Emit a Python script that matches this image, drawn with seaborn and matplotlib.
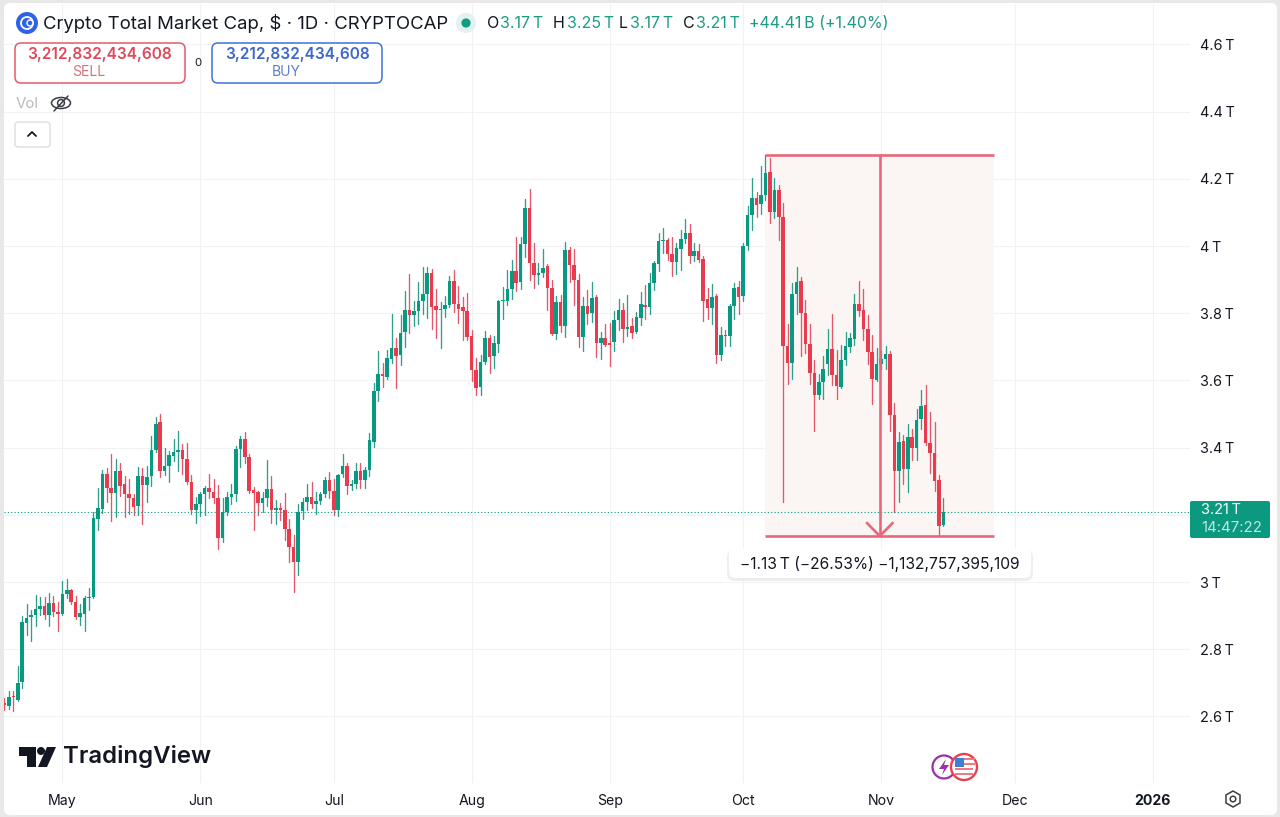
import pandas as pd
import matplotlib
matplotlib.use("Agg")
import matplotlib.pyplot as plt
import matplotlib.dates as mdates
from matplotlib.patches import Circle, FancyBboxPatch, Polygon, Rectangle, Ellipse
from matplotlib.transforms import IdentityTransform
import seaborn as sns

# daily candles in trillions of dollars
first_day = "2025-04-18"
opens = [
    2.640,2.630,2.660,2.650,2.703,2.878,2.895,2.902,2.920,2.928,
    2.901,2.937,2.910,2.904,2.965,2.975,2.942,2.897,2.905,2.952,
    2.955,3.188,3.217,3.323,3.279,3.264,3.330,3.291,3.261,3.251,
    3.227,3.316,3.289,3.316,3.393,3.475,3.330,3.345,3.376,3.386,
    3.393,3.366,3.298,3.216,3.233,3.262,3.281,3.269,3.249,3.132,
    3.209,3.254,3.261,3.396,3.427,3.373,3.274,3.267,3.235,3.251,
    3.276,3.214,3.219,3.216,3.158,3.105,3.061,3.211,3.237,3.254,
    3.233,3.241,3.261,3.303,3.272,3.214,3.322,3.344,3.286,3.291,
    3.330,3.303,3.333,3.416,3.568,3.618,3.610,3.665,3.697,3.675,
    3.744,3.811,3.794,3.806,3.836,3.857,3.920,3.821,3.811,3.812,
    3.824,3.895,3.827,3.819,3.806,3.731,3.632,3.580,3.655,3.726,
    3.672,3.709,3.836,3.837,3.872,3.926,3.892,4.006,4.114,3.951,
    3.913,3.920,3.940,3.874,3.739,3.834,3.761,3.988,3.943,3.898,
    3.729,3.822,3.801,3.848,3.711,3.727,3.711,3.714,3.781,3.811,
    3.752,3.761,3.743,3.787,3.825,3.819,3.890,3.948,4.016,4.018,
    3.976,3.953,3.991,4.022,4.040,3.971,3.984,3.962,3.842,3.817,
    3.850,3.677,3.736,3.732,3.821,3.877,3.851,4.000,4.093,4.143,
    4.125,4.151,4.220,4.101,4.168,4.088,3.703,3.652,3.857,3.896,
    3.801,3.710,3.623,3.556,3.595,3.648,3.695,3.615,3.581,3.660,
    3.700,3.723,3.829,3.809,3.753,3.685,3.602,3.648,3.665,3.680,
    3.496,3.330,3.419,3.337,3.433,3.399,3.486,3.528,3.413,3.384,3.304,3.170,
]
highs = [
    2.655,2.675,2.675,2.749,2.898,2.934,2.917,2.962,2.957,2.957,
    2.967,2.960,2.942,3.002,3.008,2.980,2.960,2.934,2.960,2.982,
    3.209,3.281,3.333,3.340,3.380,3.365,3.353,3.316,3.308,3.261,
    3.343,3.340,3.346,3.435,3.492,3.501,3.399,3.390,3.425,3.449,
    3.412,3.415,3.320,3.254,3.269,3.287,3.323,3.306,3.289,3.249,
    3.267,3.291,3.405,3.434,3.447,3.380,3.284,3.271,3.267,3.363,
    3.315,3.244,3.236,3.266,3.187,3.140,3.231,3.251,3.291,3.297,
    3.269,3.269,3.313,3.328,3.308,3.323,3.380,3.353,3.303,3.353,
    3.353,3.343,3.445,3.593,3.688,3.652,3.692,3.799,3.727,3.794,
    3.867,3.918,3.837,3.894,3.938,3.938,3.933,3.871,3.834,3.852,
    3.910,3.930,3.881,3.849,3.861,3.749,3.667,3.675,3.747,3.734,
    3.731,3.839,3.877,3.928,3.958,4.028,4.026,4.140,4.170,4.008,
    3.950,3.990,3.946,3.899,3.850,3.853,4.011,3.998,3.990,3.916,
    3.848,3.868,3.893,3.855,3.744,3.769,3.771,3.807,3.843,3.831,
    3.853,3.787,3.804,3.863,3.885,3.920,3.956,4.040,4.054,4.025,
    4.028,4.010,4.049,4.082,4.065,4.008,4.005,3.970,3.876,3.888,
    3.856,3.759,3.749,3.827,3.891,3.896,4.008,4.118,4.202,4.160,
    4.237,4.272,4.262,4.202,4.183,4.128,3.767,3.889,3.937,3.909,
    3.839,3.767,3.662,3.618,3.672,3.753,3.799,3.690,3.707,3.743,
    3.740,3.857,3.897,3.872,3.794,3.735,3.698,3.687,3.703,3.687,
    3.534,3.446,3.438,3.469,3.456,3.516,3.571,3.586,3.506,3.476,3.320,3.250,
]
lows = [
    2.620,2.623,2.615,2.645,2.685,2.841,2.825,2.868,2.901,2.891,
    2.868,2.898,2.855,2.902,2.952,2.934,2.891,2.871,2.855,2.917,
    2.952,3.155,3.207,3.239,3.182,3.195,3.257,3.195,3.204,3.199,
    3.199,3.172,3.239,3.287,3.386,3.313,3.318,3.298,3.360,3.330,
    3.323,3.291,3.204,3.177,3.198,3.199,3.251,3.234,3.099,3.118,
    3.199,3.231,3.241,3.343,3.353,3.266,3.155,3.199,3.209,3.227,
    3.175,3.172,3.185,3.125,3.059,2.969,3.021,3.188,3.214,3.221,
    3.204,3.231,3.254,3.249,3.201,3.197,3.313,3.262,3.274,3.281,
    3.281,3.279,3.316,3.401,3.538,3.580,3.603,3.652,3.578,3.645,
    3.700,3.741,3.762,3.769,3.799,3.787,3.754,3.727,3.698,3.789,
    3.819,3.804,3.771,3.721,3.721,3.598,3.558,3.558,3.650,3.623,
    3.637,3.685,3.784,3.824,3.842,3.867,3.872,3.968,3.900,3.876,
    3.887,3.908,3.811,3.734,3.722,3.744,3.729,3.893,3.824,3.699,
    3.689,3.767,3.774,3.669,3.664,3.702,3.642,3.687,3.751,3.716,
    3.732,3.727,3.742,3.764,3.784,3.797,3.868,3.926,3.978,3.960,
    3.911,3.918,3.928,4.010,3.951,3.956,3.953,3.777,3.784,3.769,
    3.652,3.661,3.704,3.702,3.782,3.799,3.837,3.988,4.048,4.088,
    4.096,4.136,4.070,4.083,4.018,3.239,3.590,3.605,3.799,3.672,
    3.682,3.590,3.449,3.546,3.544,3.615,3.586,3.544,3.579,3.645,
    3.685,3.707,3.792,3.720,3.650,3.531,3.598,3.635,3.633,3.449,
    3.210,3.237,3.292,3.267,3.364,3.362,3.456,3.409,3.324,3.272,3.138,3.166,
]
closes = [
    2.633,2.657,2.657,2.700,2.881,2.893,2.902,2.919,2.928,2.901,
    2.937,2.910,2.905,2.965,2.975,2.940,2.895,2.907,2.954,2.955,
    3.190,3.219,3.323,3.279,3.264,3.330,3.287,3.261,3.249,3.224,
    3.316,3.289,3.314,3.393,3.471,3.330,3.346,3.378,3.386,3.393,
    3.366,3.298,3.216,3.233,3.262,3.279,3.267,3.249,3.132,3.209,
    3.252,3.261,3.397,3.427,3.373,3.271,3.264,3.236,3.251,3.276,
    3.214,3.219,3.214,3.158,3.103,3.059,3.209,3.239,3.252,3.231,
    3.242,3.261,3.303,3.271,3.214,3.320,3.344,3.286,3.292,3.330,
    3.303,3.333,3.422,3.568,3.618,3.612,3.667,3.697,3.673,3.742,
    3.809,3.794,3.806,3.837,3.857,3.920,3.819,3.809,3.814,3.824,
    3.895,3.827,3.814,3.806,3.729,3.632,3.578,3.655,3.726,3.670,
    3.711,3.836,3.839,3.871,3.926,3.891,4.006,4.114,3.951,3.913,
    3.921,3.934,3.874,3.739,3.834,3.761,3.988,3.943,3.898,3.729,
    3.822,3.799,3.845,3.711,3.725,3.707,3.707,3.781,3.811,3.752,
    3.760,3.742,3.788,3.827,3.819,3.890,3.950,4.015,4.018,3.975,
    3.953,3.993,4.022,4.039,3.971,3.984,3.960,3.837,3.817,3.848,
    3.677,3.734,3.732,3.822,3.875,3.849,4.000,4.093,4.143,4.123,
    4.151,4.219,4.101,4.168,4.088,3.703,3.652,3.857,3.894,3.801,
    3.710,3.622,3.556,3.595,3.635,3.695,3.615,3.584,3.662,3.702,
    3.725,3.829,3.806,3.753,3.685,3.605,3.648,3.665,3.678,3.496,
    3.330,3.418,3.337,3.433,3.399,3.483,3.524,3.413,3.384,3.302,3.168,3.210,
]

price_ticks = [2.6, 2.8, 3.0, 3.2, 3.4, 3.6, 3.8, 4.0, 4.2, 4.4, 4.6]
price_labels = ["2.6\u2009T", "2.8\u2009T", "3\u2009T", "", "3.4\u2009T", "3.6\u2009T",
                "3.8\u2009T", "4\u2009T", "4.2\u2009T", "4.4\u2009T", "4.6\u2009T"]
month_ticks = ["2025-05-01", "2025-06-01", "2025-07-01", "2025-08-01", "2025-09-01",
               "2025-10-01", "2025-11-01", "2025-12-01", "2026-01-01"]
month_labels = ["May", "Jun", "Jul", "Aug", "Sep", "Oct", "Nov", "Dec", "2026"]
last_price = 3.21
range_top = 4.27
range_bottom = 3.137
range_start = pd.Timestamp("2025-10-06")
range_end = pd.Timestamp("2025-11-26 10:00")

GREEN = "#089981"
RED = "#ea3a4d"
RANGE = "#e9677b"
W, H = 1280, 817
PIXELS = IdentityTransform()

sns.set_theme(style="white")
plt.rcParams["font.family"] = ["Inter", "DejaVu Sans"]

df = pd.DataFrame({"open": opens, "high": highs, "low": lows, "close": closes})
df["date"] = pd.date_range(first_day, periods=len(df), freq="D")
df["day"] = mdates.date2num(df["date"])
df["up"] = df["close"] >= df["open"]
wicks = df.melt(id_vars=["day", "up"], value_vars=["high", "low"], value_name="price", ignore_index=False)
wicks["candle"] = wicks.index

fig = plt.figure(figsize=(W / 100, H / 100), dpi=100, facecolor="#e8e8e9")


def label(x, y, s, size_px=14, color="#131722", ha="left", **kw):
    fig.text(x / W, 1 - y / H, s, fontsize=size_px * 0.72, color=color, ha=ha, va="center", zorder=7, **kw)


def round_box(x0, y0, x1, y1, face="white", edge="none", lw=1.0, radius=5, zorder=5, alpha=1.0):
    fig.add_artist(FancyBboxPatch((x0, H - y1), x1 - x0, y1 - y0,
                                  boxstyle=f"round,pad=0,rounding_size={radius}",
                                  transform=PIXELS, fc=face, ec=edge, lw=lw, zorder=zorder, alpha=alpha))


def shape(patch):
    patch.set_transform(PIXELS)
    fig.add_artist(patch)


round_box(4, 3, 1277, 815, radius=6, zorder=-5)

ax = fig.add_axes([4 / W, (H - 783) / H, 1186 / W, 779 / H])
ax.patch.set_alpha(0)
month_pos = mdates.date2num(pd.to_datetime(month_ticks))
may_first = month_pos[0]
ax.set_xlim(may_first - 58.3 / 4.45, may_first + 1127.7 / 4.45)
ax.set_ylim(2.402, 4.7205)

# measure rectangle sits under the candles
x_a, x_b = mdates.date2num([range_start, range_end])
x_mid = (x_a + x_b) / 2
ax.add_patch(Rectangle((x_a, range_bottom), x_b - x_a, range_top - range_bottom,
                       fc="#fbf5f4", ec="none", zorder=1))

sns.lineplot(data=wicks, x="day", y="price", units="candle", hue="up", estimator=None,
             palette={True: "#2f9f8a", False: "#e4566a"}, lw=0.95, legend=False, ax=ax, zorder=2)
ax.bar(df["day"], (df["close"] - df["open"]).abs(), bottom=df[["open", "close"]].min(axis=1),
       width=0.8, color=df["up"].map({True: GREEN, False: RED}), linewidth=0, zorder=3)
ax.set_xlabel("")
ax.set_ylabel("")

ax.set_xticks(month_pos)
ax.set_xticklabels(month_labels)
ax.set_yticks(price_ticks)
ax.set_yticklabels(price_labels)
ax.yaxis.tick_right()
ax.tick_params(axis="y", length=0, pad=7, labelsize=10.4, labelcolor="#131722")
ax.tick_params(axis="x", length=0, pad=8, labelsize=10.2, labelcolor="#131722")
ax.get_xticklabels()[-1].set_fontweight("bold")
ax.grid(True, color="#f1f2f4", lw=0.8)
ax.set_axisbelow(True)
for side in ax.spines.values():
    side.set_visible(False)

ax.axhline(last_price, color=GREEN, lw=0.8, ls=(0, (1, 2)), zorder=2)

ax.plot([x_a, x_b], [range_top, range_top], color=RANGE, lw=1.9, zorder=4, solid_capstyle="butt")
ax.plot([x_a, x_b], [range_bottom, range_bottom], color=RANGE, lw=1.9, zorder=4, solid_capstyle="butt")
ax.plot([x_mid, x_mid], [range_top, range_bottom], color=RANGE, lw=1.9, zorder=4)
ax.plot([x_mid - 2.9, x_mid, x_mid + 2.9], [range_bottom + 0.039, range_bottom, range_bottom + 0.039],
        color=RANGE, lw=1.9, zorder=4)

# measure tooltip
round_box(727, 550, 1033, 581, face="#dedfe4", radius=7, alpha=0.5)
round_box(729, 549, 1031, 578, radius=6)
label(880, 564, "\u22121.13\u2009T (\u221226.53%) \u22121,132,757,395,109", 15.6, ha="center")

# last price tag
round_box(1190, 501, 1270, 538, face="#0b9a80", radius=2)
label(1201, 510, "3.21\u2009T", 14.6, color="white")
label(1201, 528, "14:47:22", 15, color="#bfe6dd")

# header
shape(Circle((27, H - 23), 11, fc="#2f62e6", ec="none", zorder=5))
shape(Circle((27, H - 23), 6, fc="none", ec="white", lw=1.3, zorder=6))
shape(Circle((30, H - 23), 3, fc="#2f62e6", ec="white", lw=1, zorder=6))
label(43, 23.5, "Crypto Total Market Cap, $ \u00b7 1D \u00b7 CRYPTOCAP", 18.55)
shape(Circle((466, H - 23), 10, fc="#e3f2ef", ec="none", zorder=5))
shape(Circle((466, H - 23), 4.6, fc="#0f9d84", ec="none", zorder=6))
ohlc_keys = [("O", 487), ("H", 553), ("L", 619), ("C", 683)]
ohlc_vals = [("3.17\u2009T", 500), ("3.25\u2009T", 567), ("3.17\u2009T", 630), ("3.21\u2009T", 696)]
for key, x in ohlc_keys:
    label(x, 24, key, 16)
for val, x in ohlc_vals:
    label(x, 24, val, 16, color="#1d9c84")
label(749, 24, "+44.41\u2009B (+1.40%)", 16, color="#1d9c84")

# sell and buy boxes
round_box(15, 43, 185, 83, edge="#e55a6b", lw=1.1, radius=6)
label(100, 54.5, "3,212,832,434,608", 15.4, color="#de4a5c", ha="center", weight="semibold")
label(89, 72, "SELL", 14, color="#d9707c", ha="center")
label(198, 63.5, "0", 11.5, ha="center")
round_box(212, 43, 382, 83, edge="#3f72da", lw=1.1, radius=6)
label(297, 54.5, "3,212,832,434,608", 15.4, color="#3d68c8", ha="center", weight="semibold")
label(286, 72, "BUY", 14, color="#5a80cf", ha="center")

# vol row and collapse button
label(16, 103.5, "Vol", 15, color="#b8bac0")
shape(Ellipse((61, H - 103), 19, 11, fc="none", ec="#3a3d45", lw=1.1, zorder=6))
shape(Circle((61, H - 103), 3.4, fc="none", ec="#3a3d45", lw=1.1, zorder=6))
fig.add_artist(plt.Line2D([54, 68], [H - 111, H - 96], transform=PIXELS, color="#3a3d45", lw=1.1, zorder=6))
round_box(15, 122, 50, 147, edge="#dcdde0", lw=1, radius=3)
fig.add_artist(plt.Line2D([28, 32, 36], [H - 136, H - 132, H - 136], transform=PIXELS, color="#131722",
                          lw=1.3, zorder=6))

# tradingview logo
shape(Polygon([(19, H - 747), (36, H - 747), (36, H - 767), (27, H - 767), (27, H - 756), (19, H - 756)],
              fc="#131722", ec="none", zorder=6))
shape(Circle((41, H - 751), 4, fc="#131722", ec="none", zorder=6))
shape(Polygon([(47, H - 747), (56, H - 747), (47, H - 767), (38, H - 767)], fc="#131722", ec="none", zorder=6))
label(63, 756.5, "TradingView", 24, weight="semibold")

# event markers
shape(Circle((944, H - 767), 11.5, fc="white", ec="#9b2fae", lw=1.6, zorder=6))
shape(Polygon([(946, H - 759), (939, H - 769), (944, H - 769), (942, H - 775), (949, H - 765), (944, H - 765)],
              fc="#9b2fae", ec="none", zorder=7))
shape(Circle((964, H - 767), 13, fc="white", ec="#e8414f", lw=1.7, zorder=8))
for y_s in (758, 763, 768, 773):
    shape(Rectangle((964 if y_s < 767 else 955, H - y_s - 2), 11 if y_s < 767 else 18, 2.5,
                    fc="#ef7a82", ec="none", zorder=9))
shape(Rectangle((955, H - 767), 9, 9, fc="#3d7fd6", ec="none", zorder=10))

# settings icon
shape(Polygon([(1233, H - 791), (1240, H - 795), (1240, H - 803), (1233, H - 807), (1226, H - 803), (1226, H - 795)],
              fc="none", ec="#3a3d45", lw=1.1, zorder=6))
shape(Circle((1233, H - 799), 2.8, fc="none", ec="#3a3d45", lw=1.1, zorder=6))

fig.savefig("out.png", dpi=100, facecolor=fig.get_facecolor())
plt.close(fig)
